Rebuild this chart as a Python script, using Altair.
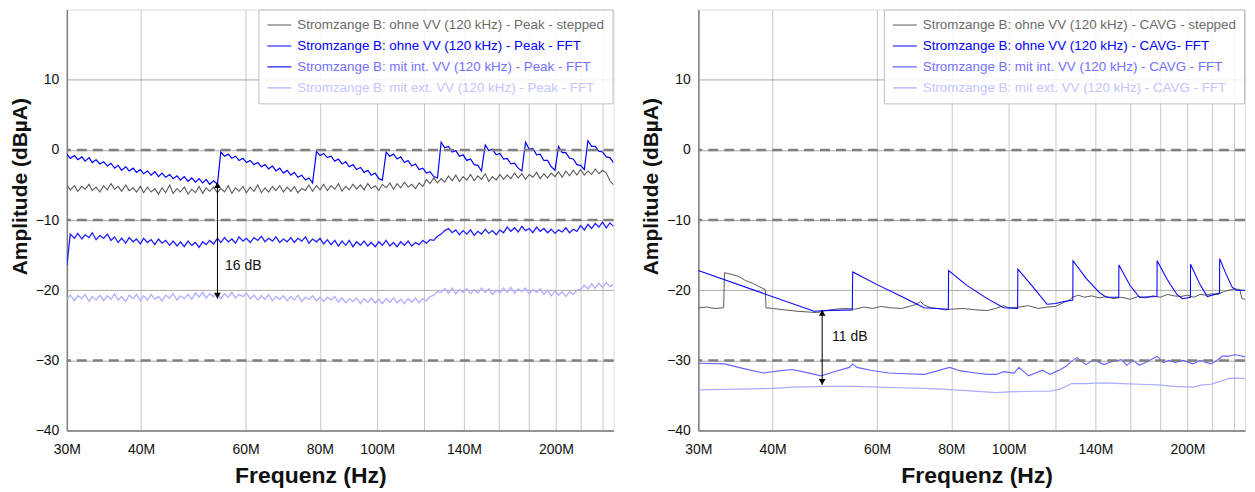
import altair as alt
import pandas as pd

FONT = "Liberation Sans"

# ---------------- shared x grid for the noisy left-panel traces (MHz) ----------------
GRID_F = [30.0, 30.4, 30.9, 31.3, 31.8, 32.2, 32.7, 33.1, 33.6, 34.1,
          34.6, 35.1, 35.6, 36.1, 36.6, 37.1, 37.7, 38.2, 38.8, 39.3,
          39.9, 40.4, 41.0, 41.6, 42.2, 42.8, 43.4, 44.0, 44.7, 45.3,
          46.0, 46.6, 47.3, 48.0, 48.7, 49.4, 50.1, 50.8, 51.5, 52.2,
          53.0, 53.8, 54.5, 55.3, 56.1, 56.9, 57.7, 58.5, 59.4, 60.2,
          61.1, 62.0, 62.9, 63.8, 64.7, 65.6, 66.6, 67.5, 68.5, 69.5,
          70.5, 71.5, 72.5, 73.5, 74.6, 75.7, 76.7, 77.8, 79.0, 80.1,
          81.2, 82.4, 83.6, 84.8, 86.0, 87.2, 88.5, 89.7, 91.0, 92.3,
          93.7, 95.0, 96.4, 97.7, 99.2, 100.6, 102.0, 103.5, 105.0, 106.5,
          108.0, 109.5, 111.1, 112.7, 114.3, 116.0, 117.6, 119.3, 121.0, 122.7,
          124.5, 126.3, 128.1, 129.9, 131.8, 133.7, 135.6, 137.5, 139.5, 141.5,
          143.6, 145.6, 147.7, 149.8, 152.0, 154.1, 156.3, 158.6, 160.9, 163.2,
          165.5, 167.9, 170.3, 172.7, 175.2, 177.7, 180.3, 182.8, 185.5, 188.1,
          190.8, 193.6, 196.3, 199.2, 202.0, 204.9, 207.8, 210.8, 213.8, 216.9,
          220.0, 223.2, 226.4, 229.6, 232.9, 236.2, 239.6, 243.1, 246.5, 250.0]

# Left: Peak stepped (gray)
L_A = [-5.0, -5.7, -5.1, -5.9, -5.2, -5.6, -4.9, -5.8, -5.3, -6.0,
       -5.1, -5.7, -4.8, -5.6, -5.2, -5.9, -5.0, -5.8, -5.4, -6.0,
       -5.2, -6.1, -5.3, -6.0, -5.5, -6.3, -5.4, -6.1, -5.0, -6.2,
       -5.5, -6.0, -5.3, -6.3, -5.6, -6.1, -5.2, -6.2, -5.4, -5.9,
       -5.3, -6.1, -5.5, -6.0, -5.1, -6.2, -5.4, -5.9, -5.2, -6.1,
       -5.3, -5.9, -5.0, -6.1, -5.4, -6.0, -5.2, -5.8, -5.1, -6.0,
       -5.3, -5.9, -5.2, -6.1, -5.5, -5.8, -5.0, -5.9, -5.1, -5.7,
       -4.9, -5.8, -5.1, -5.6, -4.8, -5.9, -5.2, -5.7, -4.9, -5.6,
       -5.0, -5.7, -4.8, -5.5, -5.1, -5.8, -4.9, -5.4, -4.7, -5.6,
       -4.8, -5.4, -4.6, -5.3, -4.9, -5.5, -4.7, -5.2, -4.2, -4.8,
       -4.0, -4.7, -4.1, -4.6, -3.7, -4.4, -3.6, -4.5, -3.8, -4.3,
       -3.5, -4.4, -3.7, -4.2, -3.4, -4.5, -3.8, -4.3, -3.5, -4.2,
       -3.6, -4.1, -3.3, -4.0, -3.4, -4.2, -3.5, -3.9, -3.2, -4.1,
       -3.4, -4.0, -3.3, -3.8, -3.1, -3.9, -3.0, -3.7, -2.9, -3.6,
       -2.8, -3.6, -3.0, -3.5, -2.7, -3.4, -2.9, -3.3, -4.4, -5.0]

# Left: Peak FFT ohne VV (sawtooth, same grid)
L_B = [-0.6, -1.2, -0.8, -1.4, -1.0, -1.6, -1.1, -1.8, -1.4, -2.0,
       -1.7, -2.3, -1.9, -2.6, -2.2, -2.9, -2.4, -3.0, -2.6, -3.2,
       -2.8, -3.4, -3.0, -3.6, -3.1, -3.8, -3.3, -3.9, -3.5, -4.1,
       -3.7, -4.3, -3.8, -4.5, -4.0, -4.6, -4.1, -4.7, -4.2, -4.9,
       -4.4, -4.9,
       -0.3, -0.9, -0.6, -1.2, -0.9, -1.5, -1.2, -1.8, -1.5, -2.1,
       -1.8, -2.4, -2.1, -2.7, -2.3, -3.0, -2.6, -3.3, -2.9, -3.6,
       -3.2, -3.9, -3.6, -4.3, -4.0, -4.7,
       -0.2, -0.8, -0.5, -1.1, -0.9, -1.6, -1.3, -2.0, -1.7, -2.4,
       -2.1, -2.8, -2.5, -3.2, -2.9, -3.6, -3.3, -4.1, -4.3,
       -0.3, -0.9, -0.6, -1.3, -1.0, -1.8, -1.5, -2.3, -2.0, -2.8,
       -2.6, -3.3, -3.1, -3.8, -4.0,
       1.1, 0.3, 0.5, -0.3, -0.1, -0.9, -0.7, -1.5, -1.3, -2.1, -2.2, -3.0,
       0.7, -0.1, 0.1, -0.7, -0.5, -1.3, -1.2, -2.0, -1.9, -2.6, -3.0,
       1.1, 0.1, 0.2, -0.7, -0.6, -1.5, -1.5, -2.4, -2.9,
       0.5, -0.4, -0.4, -1.2, -1.3, -2.1, -2.2, -2.8,
       1.3, 0.5, 0.5, -0.2, -0.3, -1.0, -1.1, -1.8]

# Left: Peak FFT mit int. VV
L_C = [-16.5, -12.0, -12.6, -11.9, -12.7, -12.1, -12.5, -11.8, -12.8, -12.2,
       -12.6, -12.0, -12.9, -12.4, -13.2, -12.6, -13.3, -12.5, -13.1, -12.7,
       -13.4, -12.6, -13.2, -12.8, -13.5, -12.7, -13.3, -12.9, -13.6, -13.0,
       -13.7, -13.1, -13.8, -13.0, -13.6, -13.2, -13.9, -13.1, -13.5, -12.9,
       -13.4, -12.6, -13.2, -12.5, -13.1, -12.7, -13.3, -12.4, -13.0, -12.6,
       -13.2, -12.5, -12.9, -12.3, -13.1, -12.6, -13.0, -12.4, -13.2, -12.7,
       -13.1, -12.5, -13.2, -12.6, -13.0, -12.4, -13.3, -12.7, -13.1, -12.6,
       -13.4, -12.8, -13.5, -12.9, -13.7, -13.0, -13.6, -12.9, -13.8, -13.1,
       -13.6, -13.0, -13.7, -13.2, -13.8, -13.1, -13.6, -12.9, -13.7, -13.2,
       -13.8, -13.1, -13.6, -13.0, -13.7, -13.2, -13.5, -12.9, -13.3, -12.8,
       -12.9, -12.3, -12.0, -11.5, -11.2, -11.8, -11.4, -12.1, -11.5, -12.0,
       -11.4, -12.2, -11.6, -12.0, -11.3, -11.9, -11.5, -12.1, -11.4, -11.8,
       -11.0, -11.6, -11.1, -11.7, -10.9, -11.5, -11.2, -11.8, -11.0, -11.6,
       -11.2, -11.8, -11.3, -11.9, -11.4, -11.7, -11.1, -11.8, -11.3, -11.6,
       -10.8, -11.4, -10.6, -11.2, -10.5, -11.0, -10.3, -11.1, -10.4, -10.9]

# Left: Peak FFT mit ext. VV
L_D = [-21.3, -20.7, -21.5, -20.8, -21.2, -20.6, -21.6, -20.9, -21.4, -20.7,
       -21.5, -20.8, -21.3, -20.5, -21.4, -20.9, -21.6, -20.7, -21.2, -20.6,
       -21.5, -20.8, -21.4, -20.6, -21.3, -20.9, -21.5, -20.7, -21.1, -20.5,
       -21.4, -20.8, -21.2, -20.6, -21.3, -20.4, -21.0, -20.3, -21.1, -20.5,
       -20.9, -20.4, -21.2, -20.5, -21.0, -20.3, -21.1, -20.6, -20.9, -20.4,
       -21.2, -20.7, -21.4, -20.8, -21.3, -20.6, -21.5, -20.9, -21.3, -20.8,
       -21.5, -20.9, -21.4, -20.7, -21.6, -21.0, -21.3, -20.8, -21.5, -21.0,
       -21.6, -21.0, -21.4, -20.9, -21.7, -21.1, -21.8, -21.2, -21.6, -21.1,
       -21.9, -21.2, -21.7, -21.1, -21.8, -21.3, -21.9, -21.2, -21.7, -21.1,
       -21.8, -21.3, -21.9, -21.2, -21.7, -21.1, -21.8, -21.2, -21.5, -20.9,
       -20.7, -20.2, -20.3, -19.8, -20.4, -19.7, -20.5, -19.9, -20.3, -19.8,
       -20.5, -19.9, -20.4, -19.7, -20.3, -19.8, -20.6, -20.0, -20.4, -19.7,
       -20.3, -19.6, -20.4, -19.8, -20.2, -19.7, -20.5, -19.9, -20.3, -19.8,
       -20.6, -20.0, -20.8, -20.1, -20.7, -20.2, -20.9, -20.2, -20.6, -20.0,
       -19.9, -19.3, -19.8, -19.1, -19.7, -19.0, -19.6, -18.9, -19.5, -19.2]

# Right: CAVG stepped (gray)
R_A_F = [30.0, 31, 32, 33.1, 33.2, 34, 35, 36, 37, 38, 38.9, 39.0, 40, 42, 44, 46, 47.5, 49, 51, 53,
         55, 57, 59, 61, 63, 66, 68, 70, 71, 72, 74, 76, 78, 80, 84, 88, 92, 95, 98, 100,
         104, 108, 112, 116, 120, 124, 126, 128, 131, 134, 138, 142, 146, 150, 155, 160, 165, 170, 175, 180,
         185, 190, 195, 200, 205, 210, 215, 220, 225, 230, 235, 240, 245, 247, 250]
R_A_V = [-22.5, -22.4, -22.6, -22.5, -17.5, -17.7, -18.0, -18.6, -19.0, -19.5, -19.9, -22.5, -22.6, -22.8, -23.0, -23.1, -23.2, -22.9, -22.7, -22.6,
         -22.7, -22.4, -22.6, -22.3, -22.5, -22.6, -22.3, -22.0, -21.6, -22.1, -22.5, -22.6, -22.8, -22.7, -22.6, -22.8, -22.9, -22.6, -22.2, -22.5,
         -22.4, -22.2, -22.6, -22.4, -22.3, -21.7, -21.5, -21.0, -20.7, -21.0, -20.8, -21.1, -20.9, -21.2, -21.0, -21.3, -20.9, -21.1, -20.8, -21.0,
         -20.6, -20.8, -20.9, -20.7, -21.0, -20.6, -20.7, -20.5, -20.6, -20.2, -20.0, -19.8, -19.9, -21.2, -21.3]

# Right: CAVG FFT ohne VV (sawtooth)
R_B_F = [30.0, 47.0, 50.0, 54.5, 54.6, 60.0, 66.0, 72.0, 79.1, 79.2, 85.0, 92.0, 98.0, 103.5, 103.6, 110.0, 116.0, 120.0, 124.0, 128.2,
         128.3, 135.0, 142.0, 146.0, 153.2, 153.3, 160.0, 166.0, 177.7, 177.8, 185.0, 192.0, 196.0, 202.3, 202.4, 210.0, 216.0, 226.5, 226.6, 232.0,
         238.0, 242.0, 250.0]
R_B_V = [-17.2, -23.0, -22.9, -22.8, -17.4, -19.2, -20.9, -22.5, -22.7, -17.2, -19.3, -21.2, -22.5, -22.6, -17.0, -19.6, -22.0, -21.9, -21.6, -21.4,
         -15.8, -18.3, -20.3, -21.0, -21.0, -16.4, -19.3, -21.0, -20.9, -15.8, -18.5, -20.6, -21.2, -21.0, -16.3, -19.2, -20.9, -20.4, -15.5, -17.6,
         -19.6, -20.0, -20.0]

# Right: CAVG FFT mit int. VV
R_C_F = [30.0, 33.2, 35.5, 38.6, 41.0, 43.2, 45.5, 48.3, 50.5, 53.9, 54.6, 55.5, 58.5, 62.8, 67.0, 72.1, 75.0, 79.5, 83.0, 88.0,
         92.0, 95.3, 98.0, 102.1, 104.0, 106.0, 108.0, 111.0, 114.0, 117.3, 120.0, 122.3, 125.0, 127.6, 130.3, 134.9, 139.0, 144.6, 149.0, 154.9,
         158.0, 162.0, 165.9, 171.0, 177.8, 182.0, 186.0, 190.6, 197.0, 204.2, 210.0, 219.0, 225.0, 229.0, 234.6, 240.0, 245.0, 250.0]
R_C_V = [-30.4, -30.5, -31.1, -31.8, -31.5, -31.3, -31.7, -32.2, -31.7, -31.0, -30.5, -31.0, -31.4, -31.8, -31.9, -32.0, -31.6, -31.0, -31.5, -31.8,
         -32.0, -32.0, -31.6, -31.8, -31.0, -31.6, -32.2, -31.8, -31.4, -32.0, -31.6, -31.3, -30.8, -30.1, -29.6, -30.6, -29.9, -30.6, -30.2, -29.9,
         -30.7, -30.0, -30.7, -30.2, -29.4, -30.3, -30.0, -30.3, -30.0, -30.5, -30.0, -30.5, -29.9, -29.4, -29.4, -29.2, -29.3, -29.5]

# Right: CAVG FFT mit ext. VV
R_D_F = [30.0, 35.0, 40.0, 43.2, 50.0, 55.0, 60.0, 66.0, 72.0, 77.3, 85.0, 95.3, 100.0, 110.0, 117.3, 122.0, 127.6, 135.0, 145.0, 155.0,
         166.0, 178.0, 190.0, 204.0, 212.0, 219.0, 227.0, 234.6, 242.0, 250.0]
R_D_V = [-34.2, -34.1, -34.0, -33.8, -33.7, -33.7, -33.8, -33.9, -34.0, -34.1, -34.3, -34.6, -34.5, -34.4, -34.4, -34.1, -33.3, -33.3, -33.2, -33.3,
         -33.4, -33.5, -33.7, -33.8, -33.5, -33.4, -33.0, -32.6, -32.5, -32.6]

LEFT_NAMES = ["Stromzange B: ohne VV (120 kHz) - Peak - stepped",
              "Stromzange B: ohne VV (120 kHz) - Peak - FFT",
              "Stromzange B: mit int. VV (120 kHz) - Peak - FFT",
              "Stromzange B: mit ext. VV  (120 kHz) - Peak - FFT"]
RIGHT_NAMES = ["Stromzange B: ohne VV (120 kHz) - CAVG - stepped",
               "Stromzange B: ohne VV (120 kHz) - CAVG- FFT",
               "Stromzange B: mit int. VV (120 kHz) - CAVG - FFT",
               "Stromzange B: mit ext. VV  (120 kHz) - CAVG - FFT"]

LIMIT_LINES = [0, -10, -30]
X_TICKS = [30, 40, 60, 80, 100, 120, 140, 160, 180, 200, 220, 240]
X_LABELED = [30, 40, 60, 80, 100, 140, 200]
Y_TICKS = [-40, -30, -20, -10, 0, 10]

L_ARROW = {"f": [53.8], "top": [-4.6], "bottom": [-21.2]}
L_NOTE = {"f": [55.4], "v": [-16.6], "t": ["16 dB"]}
R_ARROW = {"f": [48.5], "top": [-22.8], "bottom": [-33.5]}
R_NOTE = {"f": [50.4], "v": [-26.6], "t": ["11 dB"]}

LEFT_LINE_COLORS = ["#5a5a5a", "#0000ff", "#1f1fff", "#b3b3ff"]
LEFT_WIDTHS = [1.1, 1.4, 1.4, 1.3]
LEFT_SYMBOL_COLORS = ["#5a5a5a", "#1010ff", "#3c3cff", "#b3b3ff"]
RIGHT_LINE_COLORS = ["#5a5a5a", "#0000ff", "#6464ff", "#aaaaff"]
RIGHT_WIDTHS = [1.0, 1.2, 1.0, 1.0]
RIGHT_SYMBOL_COLORS = ["#5a5a5a", "#1010ff", "#7070ff", "#b3b3ff"]
LABEL_COLORS = ["#6a6a6a", "#0000ff", "#7272ff", "#c4c4ff"]


def frame(freqs, vals, name):
    return pd.DataFrame({"f": freqs, "v": vals, "s": name})


left_df = pd.concat([
    frame(GRID_F, L_A, LEFT_NAMES[0]),
    frame(GRID_F, L_B, LEFT_NAMES[1]),
    frame(GRID_F, L_C, LEFT_NAMES[2]),
    frame(GRID_F, L_D, LEFT_NAMES[3]),
])
right_df = pd.concat([
    frame(R_A_F, R_A_V, RIGHT_NAMES[0]),
    frame(R_B_F, R_B_V, RIGHT_NAMES[1]),
    frame(R_C_F, R_C_V, RIGHT_NAMES[2]),
    frame(R_D_F, R_D_V, RIGHT_NAMES[3]),
])

label_expr = ("indexof([" + ",".join(str(v) for v in X_LABELED) +
              "], datum.value) >= 0 ? datum.value + 'M' : ''")


def by_index(colors):
    return ("datum.index == 0 ? '%s' : datum.index == 1 ? '%s' : datum.index == 2 ? '%s' : '%s'"
            % tuple(colors))


def panel(df, names, colors, widths, symbol_colors, draw_order, legend_x, title_x, arrow, note):
    xenc = alt.X("f:Q",
                 scale=alt.Scale(type="log", domain=[30, 250], nice=False),
                 axis=alt.Axis(values=X_TICKS, labelExpr=label_expr, title="Frequenz (Hz)",
                               titleFontSize=23, titleFontWeight="bold", titleX=title_x, titleY=34,
                               titleAlign="center", titleBaseline="top", labelFontSize=14,
                               labelPadding=12, ticks=False, labelOverlap=False, labelFlush=False,
                               gridColor="#c8c8c8", gridWidth=1, domainColor="#808080",
                               domainWidth=1.5, labelColor="#111111", titleColor="#111111"))
    yenc = alt.Y("v:Q",
                 scale=alt.Scale(domain=[-40, 20], nice=False, zero=False),
                 axis=alt.Axis(values=Y_TICKS, title="Amplitude (dBµA)", titleFontSize=21,
                               titleFontWeight="bold", titleY=177, titlePadding=5,
                               labelFontSize=14, labelPadding=8, ticks=False,
                               gridColor="#aaaaaa", gridWidth=1, domainColor="#808080",
                               domainWidth=1.5, labelColor="#111111", titleColor="#111111"))
    color = alt.Color("s:N", scale=alt.Scale(domain=names, range=colors),
                      legend=alt.Legend(orient="none", legendX=legend_x, legendY=0, title=None,
                                        symbolType="stroke", symbolSize=576, symbolStrokeWidth=1.5,
                                        symbolStrokeColor={"expr": by_index(symbol_colors)},
                                        labelFontSize=13.4, labelFont=FONT, labelLimit=600,
                                        labelColor={"expr": by_index(LABEL_COLORS)}, labelOffset=5,
                                        fillColor="rgba(255,255,255,0.85)", strokeColor="#c0c0c0",
                                        padding=8, rowPadding=6, clipHeight=15))
    width = alt.StrokeWidth("s:N", scale=alt.Scale(domain=names, range=widths), legend=None)

    layers = []
    for i in draw_order:
        layers.append(
            alt.Chart(df).transform_filter(alt.datum.s == names[i])
            .mark_line(clip=True)
            .encode(x=xenc, y=yenc, color=color, strokeWidth=width)
        )
    limits = alt.Chart(pd.DataFrame({"v": LIMIT_LINES})).mark_rule(
        color="#808080", strokeWidth=2.5, strokeDash=[10, 6]).encode(y="v:Q")
    adf = pd.DataFrame(arrow)
    shaft = alt.Chart(adf).mark_rule(color="black", strokeWidth=1).encode(
        x="f:Q", y="top:Q", y2="bottom:Q")
    head_top = alt.Chart(adf).mark_point(shape="triangle-up", filled=True, size=45,
                                         color="black", opacity=1, yOffset=3).encode(x="f:Q", y="top:Q")
    head_bot = alt.Chart(adf).mark_point(shape="triangle-down", filled=True, size=45,
                                         color="black", opacity=1, yOffset=-3).encode(x="f:Q", y="bottom:Q")
    text = alt.Chart(pd.DataFrame(note)).mark_text(align="left", baseline="middle", fontSize=14,
                                                   font=FONT, color="#111111").encode(
        x="f:Q", y="v:Q", text="t:N")
    return alt.layer(*layers, limits, shaft, head_top, head_bot, text).properties(width=548, height=422)


left = panel(left_df, LEFT_NAMES, LEFT_LINE_COLORS, LEFT_WIDTHS, LEFT_SYMBOL_COLORS,
             [3, 2, 1, 0], 192, 244, L_ARROW, L_NOTE)
right = panel(right_df, RIGHT_NAMES, RIGHT_LINE_COLORS, RIGHT_WIDTHS, RIGHT_SYMBOL_COLORS,
              [3, 2, 0, 1], 186, 279, R_ARROW, R_NOTE)

chart = (alt.hconcat(left, right, spacing=24)
         .resolve_scale(color="independent", strokeWidth="independent", x="independent", y="independent")
         .resolve_legend(color="independent")
         .properties(padding={"left": 0, "top": 0, "right": 0, "bottom": 0})
         .configure_view(stroke=None)
         .configure(font=FONT))

chart.save("out.html", embed_options={"renderer": "svg", "actions": False})
